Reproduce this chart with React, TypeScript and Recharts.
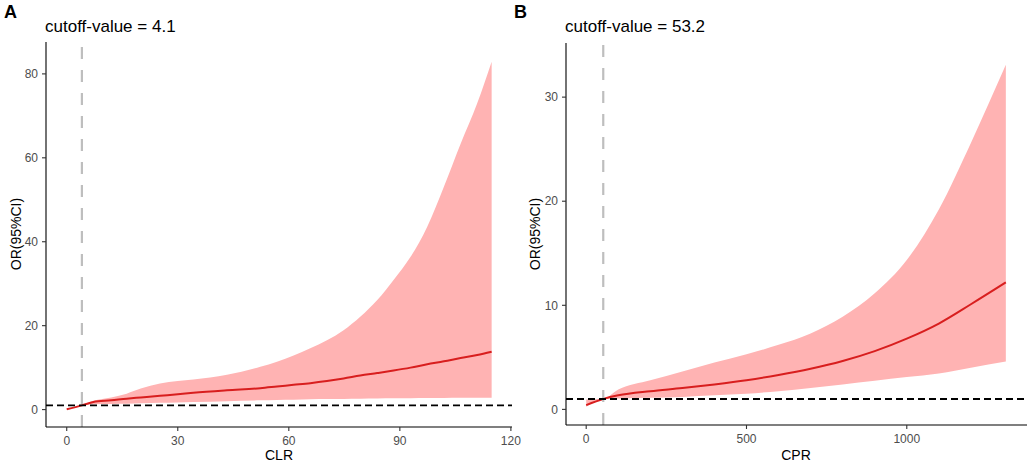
import React from 'react';
import { ComposedChart, Area, Line, XAxis, YAxis, ReferenceLine } from 'recharts';

// Panel A: CLR
const clrX = [0, 4.1, 7.2, 12, 16.2, 20, 25.2, 30, 34.2, 43.3, 52.3, 56.8, 61.3, 65.8, 70.3, 74.8, 79.3, 83.9, 88.3, 92.9, 97.4, 101.9, 106.4, 110.9, 114.8];
const clrOR = [0.1, 1, 1.8, 2.2, 2.6, 2.9, 3.3, 3.65, 4.0, 4.6, 5.1, 5.5, 5.9, 6.3, 6.8, 7.4, 8.1, 8.7, 9.3, 10.0, 10.8, 11.5, 12.3, 13.0, 13.8];
const clrLow = [0.02, 1, 1.3, 1.35, 1.4, 1.5, 1.6, 1.7, 1.8, 2.0, 2.2, 2.3, 2.35, 2.45, 2.5, 2.55, 2.6, 2.65, 2.7, 2.7, 2.75, 2.75, 2.8, 2.8, 2.8];
const clrUp = [0.25, 1, 2.1, 2.9, 3.8, 5.0, 6.2, 6.8, 7.15, 8.3, 10.2, 11.4, 12.9, 14.6, 16.5, 18.9, 22.1, 26.1, 30.9, 36.4, 43.6, 53.1, 63.3, 73.0, 82.9];
const clrXTicks = [0, 30, 60, 90, 120];
const clrYTicks = [0, 20, 40, 60, 80];
const clrCutoff = 4.1;

// Panel B: CPR
const cprX = [0, 53.2, 100, 200, 300, 400, 500, 600, 700, 800, 900, 1000, 1100, 1200, 1309];
const cprOR = [0.41, 1, 1.35, 1.75, 2.05, 2.4, 2.8, 3.3, 3.9, 4.65, 5.6, 6.8, 8.25, 10.1, 12.2];
const cprLow = [0.25, 1, 1.05, 1.12, 1.2, 1.35, 1.5, 1.75, 2.05, 2.4, 2.75, 3.1, 3.45, 4.0, 4.6];
const cprUp = [0.95, 1, 1.9, 2.8, 3.65, 4.5, 5.3, 6.2, 7.3, 8.9, 11.15, 14.35, 19.2, 25.6, 33.1];
const cprXTicks = [0, 500, 1000];
const cprYTicks = [0, 10, 20, 30];
const cprCutoff = 53.2;

const refOR = 1;

const FONT = '"Liberation Sans", Arial, sans-serif';

function build(xs: number[], or: number[], lo: number[], up: number[]) {
  return xs.map((x, i) => ({ x, or: or[i], band: [lo[i], up[i]] }));
}

const dataA = build(clrX, clrOR, clrLow, clrUp);
const dataB = build(cprX, cprOR, cprLow, cprUp);

const tickStyle = { fill: '#4D4D4D', fontSize: 12, fontFamily: FONT };

function Panel(props: {
  data: any[];
  width: number;
  xDomain: [number, number];
  yDomain: [number, number];
  xTicks: number[];
  yTicks: number[];
  cutoff: number;
  top: number;
  right: number;
  yWidth: number;
  xHeight: number;
}) {
  const { data, width, xDomain, yDomain, xTicks, yTicks, cutoff, top, right, yWidth, xHeight } = props;
  return (
    <ComposedChart width={width} height={464} data={data} margin={{ top, right, bottom: 0, left: 0 }}>
      <XAxis
        type="number"
        dataKey="x"
        domain={xDomain}
        ticks={xTicks}
        allowDataOverflow
        height={xHeight}
        tickSize={4}
        tickMargin={5}
        tick={tickStyle}
        axisLine={{ stroke: '#000000', strokeWidth: 1.1 }}
        tickLine={{ stroke: '#333333', strokeWidth: 1.1 }}
        interval={0}
      />
      <YAxis
        type="number"
        domain={yDomain}
        ticks={yTicks}
        allowDataOverflow
        width={yWidth}
        tickSize={4}
        tickMargin={4}
        tick={tickStyle}
        axisLine={{ stroke: '#000000', strokeWidth: 1.1 }}
        tickLine={{ stroke: '#333333', strokeWidth: 1.1 }}
        interval={0}
      />
      <Area
        type="monotone"
        dataKey="band"
        stroke="none"
        fill="#FFB3B3"
        fillOpacity={1}
        isAnimationActive={false}
        dot={false}
        activeDot={false}
      />
      <Line
        type="monotone"
        dataKey="or"
        stroke="#D81E1E"
        strokeWidth={2}
        dot={false}
        activeDot={false}
        isAnimationActive={false}
      />
      <ReferenceLine x={cutoff} stroke="#BEBEBE" strokeWidth={2.2} strokeDasharray="12 11" />
      <ReferenceLine y={refOR} stroke="#000000" strokeWidth={1.8} strokeDasharray="7 4" />
    </ComposedChart>
  );
}

export default function App() {
  return (
    <div
      style={{
        position: 'absolute',
        left: 0,
        top: 0,
        width: 1029,
        height: 464,
        background: '#ffffff',
        fontFamily: FONT,
        overflow: 'hidden',
      }}
    >
      <div style={{ position: 'absolute', left: 0, top: 0 }}>
        <Panel
          data={dataA}
          width={535}
          xDomain={[-5.6, 120.3]}
          yDomain={[-4.15, 87.6]}
          xTicks={clrXTicks}
          yTicks={clrYTicks}
          cutoff={clrCutoff}
          top={42}
          right={23}
          yWidth={46}
          xHeight={37}
        />
      </div>
      <div style={{ position: 'absolute', left: 515, top: 0 }}>
        <Panel
          data={dataB}
          width={514}
          xDomain={[-63, 1375]}
          yDomain={[-1.5, 35.2]}
          xTicks={cprXTicks}
          yTicks={cprYTicks}
          cutoff={cprCutoff}
          top={43}
          right={2}
          yWidth={51}
          xHeight={39}
        />
      </div>
      <svg
        width={1029}
        height={464}
        style={{ position: 'absolute', left: 0, top: 0, pointerEvents: 'none' }}
      >
        <g fontFamily={FONT}>
          <text x={4} y={18} fontSize={18} fontWeight="bold" fill="#000">A</text>
          <text x={45} y={31.5} fontSize={17} fill="#000">cutoff-value = 4.1</text>
          <text
            x={16}
            y={234}
            fontSize={14}
            fill="#000"
            textAnchor="middle"
            dominantBaseline="central"
            transform="rotate(-90 16 234)"
          >
            OR(95%CI)
          </text>
          <text x={279} y={460} fontSize={14} fill="#000" textAnchor="middle">CLR</text>

          <text x={514} y={18} fontSize={18} fontWeight="bold" fill="#000">B</text>
          <text x={565} y={31.5} fontSize={17} fill="#000">cutoff-value = 53.2</text>
          <text
            x={535}
            y={234}
            fontSize={14}
            fill="#000"
            textAnchor="middle"
            dominantBaseline="central"
            transform="rotate(-90 535 234)"
          >
            OR(95%CI)
          </text>
          <text x={796} y={460} fontSize={14} fill="#000" textAnchor="middle">CPR</text>
        </g>
      </svg>
    </div>
  );
}
